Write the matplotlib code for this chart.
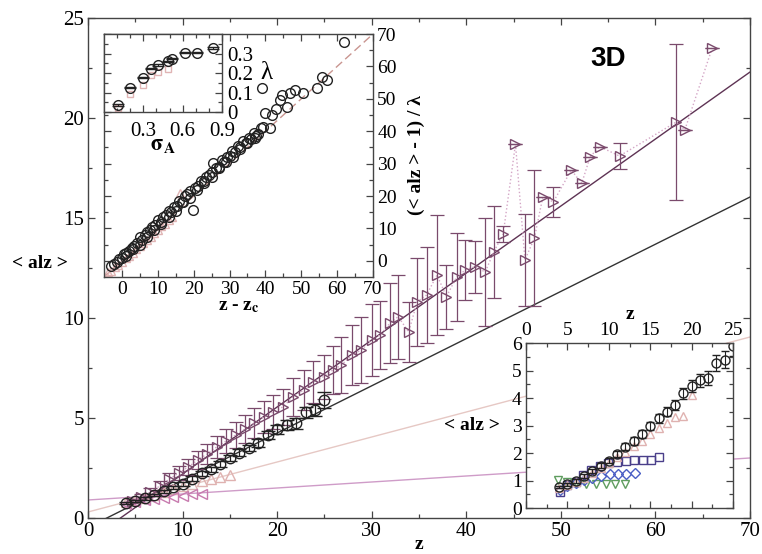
import numpy as np
import matplotlib
matplotlib.use("Agg")
from matplotlib import pyplot as plt

plt.rcParams['font.family'] = ['Liberation Serif', 'DejaVu Serif']
plt.rcParams['mathtext.fontset'] = 'stix'

# ---- main panel: <alz> versus z ----
CIRC_Z = list(range(4, 26))
CIRC_V = [0.76, 0.86, 0.98, 1.15, 1.34, 1.53, 1.72, 1.97, 2.23, 2.44, 2.7,
          2.99, 3.27, 3.5, 3.75, 4.17, 4.43, 4.64, 4.73, 5.28, 5.4, 5.9]
CIRC_ERR = [0.05, 0.05, 0.06, 0.07, 0.08, 0.09, 0.1, 0.11, 0.12, 0.13, 0.14,
            0.15, 0.16, 0.17, 0.18, 0.2, 0.22, 0.24, 0.26, 0.28, 0.3, 0.38]

TRI_Z = [4.6, 5.6, 6.6, 7.6, 8.6, 9.6, 10.6, 11.6, 12.6, 13.6, 14.6, 15.6,
         16.6, 17.6, 18.6, 19.6, 20.65, 21.7, 22.8, 23.8, 24.9, 25.9, 26.8,
         27.9, 28.9, 30.0, 30.9, 31.9, 32.8, 33.9, 34.8, 35.8, 36.9, 37.9,
         39.0, 39.9, 40.9, 42.0, 42.9, 43.9, 45.2, 46.2, 47.2, 48.1, 49.2,
         51.1, 52.2, 53.1, 54.1, 56.2, 62.2, 63.1, 66.0]
TRI_V = [0.85, 1.05, 1.3, 1.6, 1.95, 2.25, 2.55, 2.9, 3.2, 3.55, 3.85, 4.15,
         4.45, 4.75, 5.05, 5.3, 5.57, 6.07, 6.4, 6.8, 7.07, 7.4, 7.65,
         8.15, 8.4, 8.9, 9.15, 9.73, 10.07, 9.3, 10.8, 11.15, 12.15, 11.07,
         12.07, 12.4, 12.57, 12.3, 13.3, 14.2, 18.7, 12.9, 14.0, 16.07, 15.8,
         17.4, 16.73, 18.07, 18.57, 18.1, 19.8, 19.4, 23.5]
TRI_ERR = [0.1, 0.15, 0.2, 0.25, 0.3, 0.35, 0.4, 0.45, 0.5, 0.55, 0.6, 0.65,
           0.7, 0.75, 0.8, 0.85, 0.9, 0.95, 1.0, 1.05, 1.1, 1.2, 1.4,
           1.5, 1.65, 1.8, 1.7, 2.0, 2.1, 1.5, 2.2, 2.4, 3.0, 1.6,
           2.2, 1.5, 1.3, 2.7, 2.3, 0.4, 0.0, 2.3, 3.4, 0.0, 0.75,
           0.0, 0.0, 0.0, 0.0, 0.65, 3.9, 0.0, 0.0]

TAN_Z = list(range(4, 16))
TAN_V = [0.8, 0.9, 1.0, 1.15, 1.3, 1.45, 1.6, 1.7, 1.85, 1.95, 2.05, 2.15]

PINK_Z = list(range(4, 13))
PINK_V = [0.72, 0.8, 0.88, 0.95, 1.0, 1.05, 1.12, 1.18, 1.22]

# straight fits: slope, offset, colour
FIT_SLOPE = [0.335, 0.236, 0.125, 0.03]
FIT_OFFSET = [-1.15, -0.47, 0.3, 0.9]
FIT_COLOR = ['#5e3354', '#333333', '#e6c8c4', '#cf9cc8']

# ---- upper inset: collapse ----
COLL_X = [-3.0, -2.2, -1.5, -0.8, 0.0, 0.6, 1.2, 2.0, 2.8, 3.5, 4.2, 5.0,
          5.5, 6.3, 7.0, 7.8, 8.5, 9.2, 10.0, 10.8, 11.5, 12.3, 13.0, 13.8,
          14.5, 15.3, 16.0, 16.8, 17.5, 18.2, 19.0, 19.9, 20.5, 21.2, 22.0,
          22.8, 23.5, 24.2, 25.0, 25.5, 26.3, 27.0, 27.8, 28.5, 29.3, 30.0,
          30.8, 31.5, 32.3, 33.0, 33.8, 34.5, 35.3, 36.0, 36.8, 37.5, 38.0,
          38.8, 39.0, 39.4, 39.9, 41.3, 41.8, 43.0, 44.1, 44.5, 45.9, 46.9,
          48.2, 50.6, 54.3, 55.7, 57.1, 62.0]
COLL_Y = [-1.5, -1.0, -0.5, 0.5, 1.0, 2.0, 2.5, 3.0, 4.0, 4.5, 5.5, 7.4,
          6.5, 8.0, 9.0, 9.5, 10.5, 11.0, 12.5, 12.0, 13.5, 14.0, 15.5, 15.0,
          16.5, 17.0, 18.5, 18.0, 20.0, 20.5, 21.5, 15.7, 22.5, 23.0, 24.5,
          24.0, 26.0, 26.5, 27.5, 30.1, 28.5, 29.0, 31.0, 30.5, 32.0, 32.5,
          34.0, 33.5, 35.5, 35.0, 37.0, 36.5, 38.0, 37.5, 39.5, 38.5, 39.0,
          41.0, 53.2, 41.4, 45.5, 40.9, 45.0, 47.0, 49.6, 51.2, 47.6, 51.7,
          52.7, 51.7, 53.2, 56.8, 55.8, 67.5]
COLL2_X = [1, 3, 5, 7, 9, 11, 13, 15, 17, 19, 21, 23, 25, 27, 29, 31, 33, 35, 37]
COLL2_Y = [1.5, 3.5, 5.0, 7.5, 9.5, 11.5, 13.5, 15.5, 18.0, 19.5, 22.0, 24.5,
           26.0, 28.5, 30.5, 32.0, 34.5, 36.5, 38.0]
PCOLL_X = [-4, -3, -2, -1, 0, 1, 2, 3, 4, 5, 6, 7, 8, 9, 10, 11, 12, 13, 14, 16.2]
PCOLL_Y = [-3.5, -3, -2, -1.2, -0.3, 0.8, 1.6, 2.5, 3.5, 4.6, 5.4, 6.5, 7.4,
           8.6, 9.5, 10.6, 11.3, 12.5, 13.4, 20.8]

# ---- lambda versus sigma_A ----
SIG = [0.11, 0.20, 0.30, 0.36, 0.415, 0.49, 0.52, 0.62, 0.71, 0.83]
LAM = [0.036, 0.125, 0.177, 0.223, 0.24, 0.26, 0.274, 0.305, 0.305, 0.327]
SIG_P = [0.11, 0.20, 0.30, 0.36, 0.415, 0.49]
LAM_P = [0.02, 0.09, 0.14, 0.19, 0.205, 0.22]

# ---- lower inset ----
IN_TAN_Z = list(range(4, 21))
IN_TAN_V = [0.72, 0.82, 0.95, 1.1, 1.28, 1.45, 1.62, 1.85, 2.05, 2.25, 2.45,
            2.7, 2.9, 3.1, 3.3, 3.35, 4.1]
SQ_Z = [4.1, 5.0, 6.0, 6.9, 7.9, 8.9, 9.9, 11.0, 12.1, 13.1, 14.1, 15.1, 16.1]
SQ_V = [0.57, 0.83, 0.96, 1.2, 1.4, 1.53, 1.63, 1.69, 1.72, 1.73, 1.75, 1.75, 1.85]
DIA_Z = [4.1, 5.0, 6.0, 7.0, 8.0, 9.0, 10.1, 11.1, 12.1, 13.2]
DIA_V = [0.65, 0.8, 0.92, 1.02, 1.1, 1.18, 1.22, 1.25, 1.25, 1.27]
GRN_Z = [3.9, 5.0, 6.0, 7.2, 8.4, 9.6, 10.8, 12.0]
GRN_V = [1.02, 0.95, 0.92, 0.89, 0.89, 0.89, 0.89, 0.89]

TRI_COLOR = '#7a4a6c'
EDGE = '#444444'


def style_axes(ax, size=14):
    for s in ax.spines.values():
        s.set_color(EDGE)
        s.set_linewidth(1.0)
    ax.tick_params(which='both', direction='in', top=True, right=True,
                   color=EDGE, labelsize=size, pad=3)
    ax.tick_params(which='major', length=5, width=0.9)
    ax.tick_params(which='minor', length=3.2, width=0.9)


fig = plt.figure(figsize=(7.62, 5.54), dpi=100)

# main axes
ax = fig.add_axes([0.1155, 0.065, 0.8688, 0.9025])
style_axes(ax, 15)
z_line = np.array([0.0, 70.0])
for slope, off, col in zip(FIT_SLOPE, FIT_OFFSET, FIT_COLOR):
    ax.plot(z_line, slope * z_line + off, color=col, lw=1.0, zorder=2)

ax.plot(TRI_Z, TRI_V, ls=':', color='#d4a6c6', lw=1.0, zorder=2)
ax.errorbar(TRI_Z, TRI_V, yerr=TRI_ERR, fmt='>', ms=7.5, mfc='none',
            mec=TRI_COLOR, ecolor=TRI_COLOR, elinewidth=0.9, capsize=5,
            capthick=0.9, zorder=3)
ax.errorbar(CIRC_Z, CIRC_V, yerr=CIRC_ERR, fmt='o', ms=7.5, mfc='none',
            mec='#222222', mew=1.0, ecolor='#222222', elinewidth=0.9,
            capsize=5, zorder=4)
ax.plot(TAN_Z, TAN_V, '^', ms=7, mfc='none', mec='#dfb2b0', zorder=3)
ax.plot(PINK_Z, PINK_V, '<', ms=7, mfc='none', mec='#c77aae', zorder=3)

ax.set_xlim(0, 70)
ax.set_ylim(0, 25)
ax.set_xticks(range(0, 71, 10))
ax.set_xticks(range(5, 70, 10), minor=True)
ax.set_yticks(range(0, 26, 5))
ax.set_yticks(np.arange(2.5, 25, 5), minor=True)
ax.set_xlabel('z', fontsize=14, fontweight='bold', labelpad=-4)
ax.text(-0.073, 0.508, '< alz >', transform=ax.transAxes, fontsize=14,
        fontweight='bold', ha='center', va='center')
ax.text(0.785, 0.918, '3D', transform=ax.transAxes, fontsize=20,
        fontweight='bold', family='Liberation Sans', ha='center', va='center')

# upper inset: collapse
ax1 = fig.add_axes([0.1365, 0.5, 0.353, 0.4386])
style_axes(ax1, 14)
ax1.tick_params(labelleft=False, labelright=True)
d = np.array([-5.0, 70.0])
ax1.plot(d, d, ls='--', color='#c99590', lw=1.0, dashes=(6, 3), zorder=1)
ax1.plot(PCOLL_X, PCOLL_Y, '^', ms=6, mfc='none', mec='#e0b4b4', zorder=2)
ax1.plot(COLL2_X, COLL2_Y, 'o', ms=7, mfc='none', mec='#222222', mew=1.0, zorder=3)
ax1.plot(COLL_X, COLL_Y, 'o', ms=7, mfc='none', mec='#222222', mew=1.0, zorder=3)
ax1.set_xlim(-5, 70)
ax1.set_ylim(-5, 70)
ax1.set_xticks(range(0, 71, 10))
ax1.set_xticks(range(5, 70, 10), minor=True)
ax1.set_yticks(range(0, 71, 10))
ax1.set_yticks(range(5, 70, 10), minor=True)
ax1.set_xlabel(r'z - z$_\mathbf{c}$', fontsize=14, fontweight='bold', labelpad=0)
ax1.yaxis.set_label_position('right')
ax1.set_ylabel('(< alz > - 1) / λ', fontsize=14, fontweight='bold', labelpad=8)

# lambda versus sigma_A
ax2 = fig.add_axes([0.1365, 0.7978, 0.1549, 0.1408])
style_axes(ax2, 15)
ax2.tick_params(labelleft=False, labelright=True)
ax2.tick_params(axis='y', pad=4)
ax2.tick_params(axis='x', pad=7)
ax2.plot(SIG_P, LAM_P, 's', ms=4, mfc='none', mec='#e0b4b4')
ax2.errorbar(SIG, LAM, yerr=0.004, fmt='o', ms=7, mfc='none', mec='#222222',
             ecolor='#222222', capsize=4, elinewidth=0.8)
ax2.set_xlim(0, 0.9)
ax2.set_ylim(0, 0.4)
ax2.set_xticks([0.3, 0.6, 0.9])
ax2.set_xticks([0.1, 0.2, 0.4, 0.5, 0.7, 0.8], minor=True)
ax2.set_yticks([0, 0.1, 0.2, 0.3])
ax2.set_yticklabels(['0', '0.1', '0.2', '0.3'])
ax2.set_yticks([0.05, 0.15, 0.25, 0.35], minor=True)
ax2.set_xlabel(r'$\mathbf{\sigma_A}$', fontsize=16, labelpad=-3)
ax2.text(1.38, 0.5, 'λ', transform=ax2.transAxes, fontsize=18,
         ha='center', va='center')

# lower inset
ax3 = fig.add_axes([0.6903, 0.083, 0.2717, 0.2978])
style_axes(ax3, 14)
ax3.tick_params(labelbottom=False, labeltop=True)
ax3.plot(GRN_Z, GRN_V, 'v', ms=6, mfc='none', mec='#5f9d5f')
ax3.plot(DIA_Z, DIA_V, 'D', ms=5, mfc='none', mec='#4a5ec4')
ax3.plot(SQ_Z, SQ_V, 's', ms=6, mfc='none', mec='#4a3f8a')
ax3.plot(IN_TAN_Z, IN_TAN_V, '^', ms=6, mfc='none', mec='#dfb2b0')
ax3.errorbar(CIRC_Z, CIRC_V, yerr=CIRC_ERR, fmt='o', ms=6.5, mfc='none',
             mec='#222222', ecolor='#222222', elinewidth=0.8, capsize=3)
ax3.set_xlim(0, 25)
ax3.set_ylim(0, 6)
ax3.set_xticks(range(0, 26, 5))
ax3.set_xticks(np.arange(2.5, 25, 5), minor=True)
ax3.set_yticks(range(0, 7))
ax3.set_yticks(np.arange(0.5, 6, 1), minor=True)
ax3.xaxis.set_label_position('top')
ax3.set_xlabel('z', fontsize=14, fontweight='bold', labelpad=2)
ax3.text(-0.26, 0.5, '< alz >', transform=ax3.transAxes, fontsize=14,
         fontweight='bold', ha='center', va='center')

fig.savefig('out.png', dpi=100)
